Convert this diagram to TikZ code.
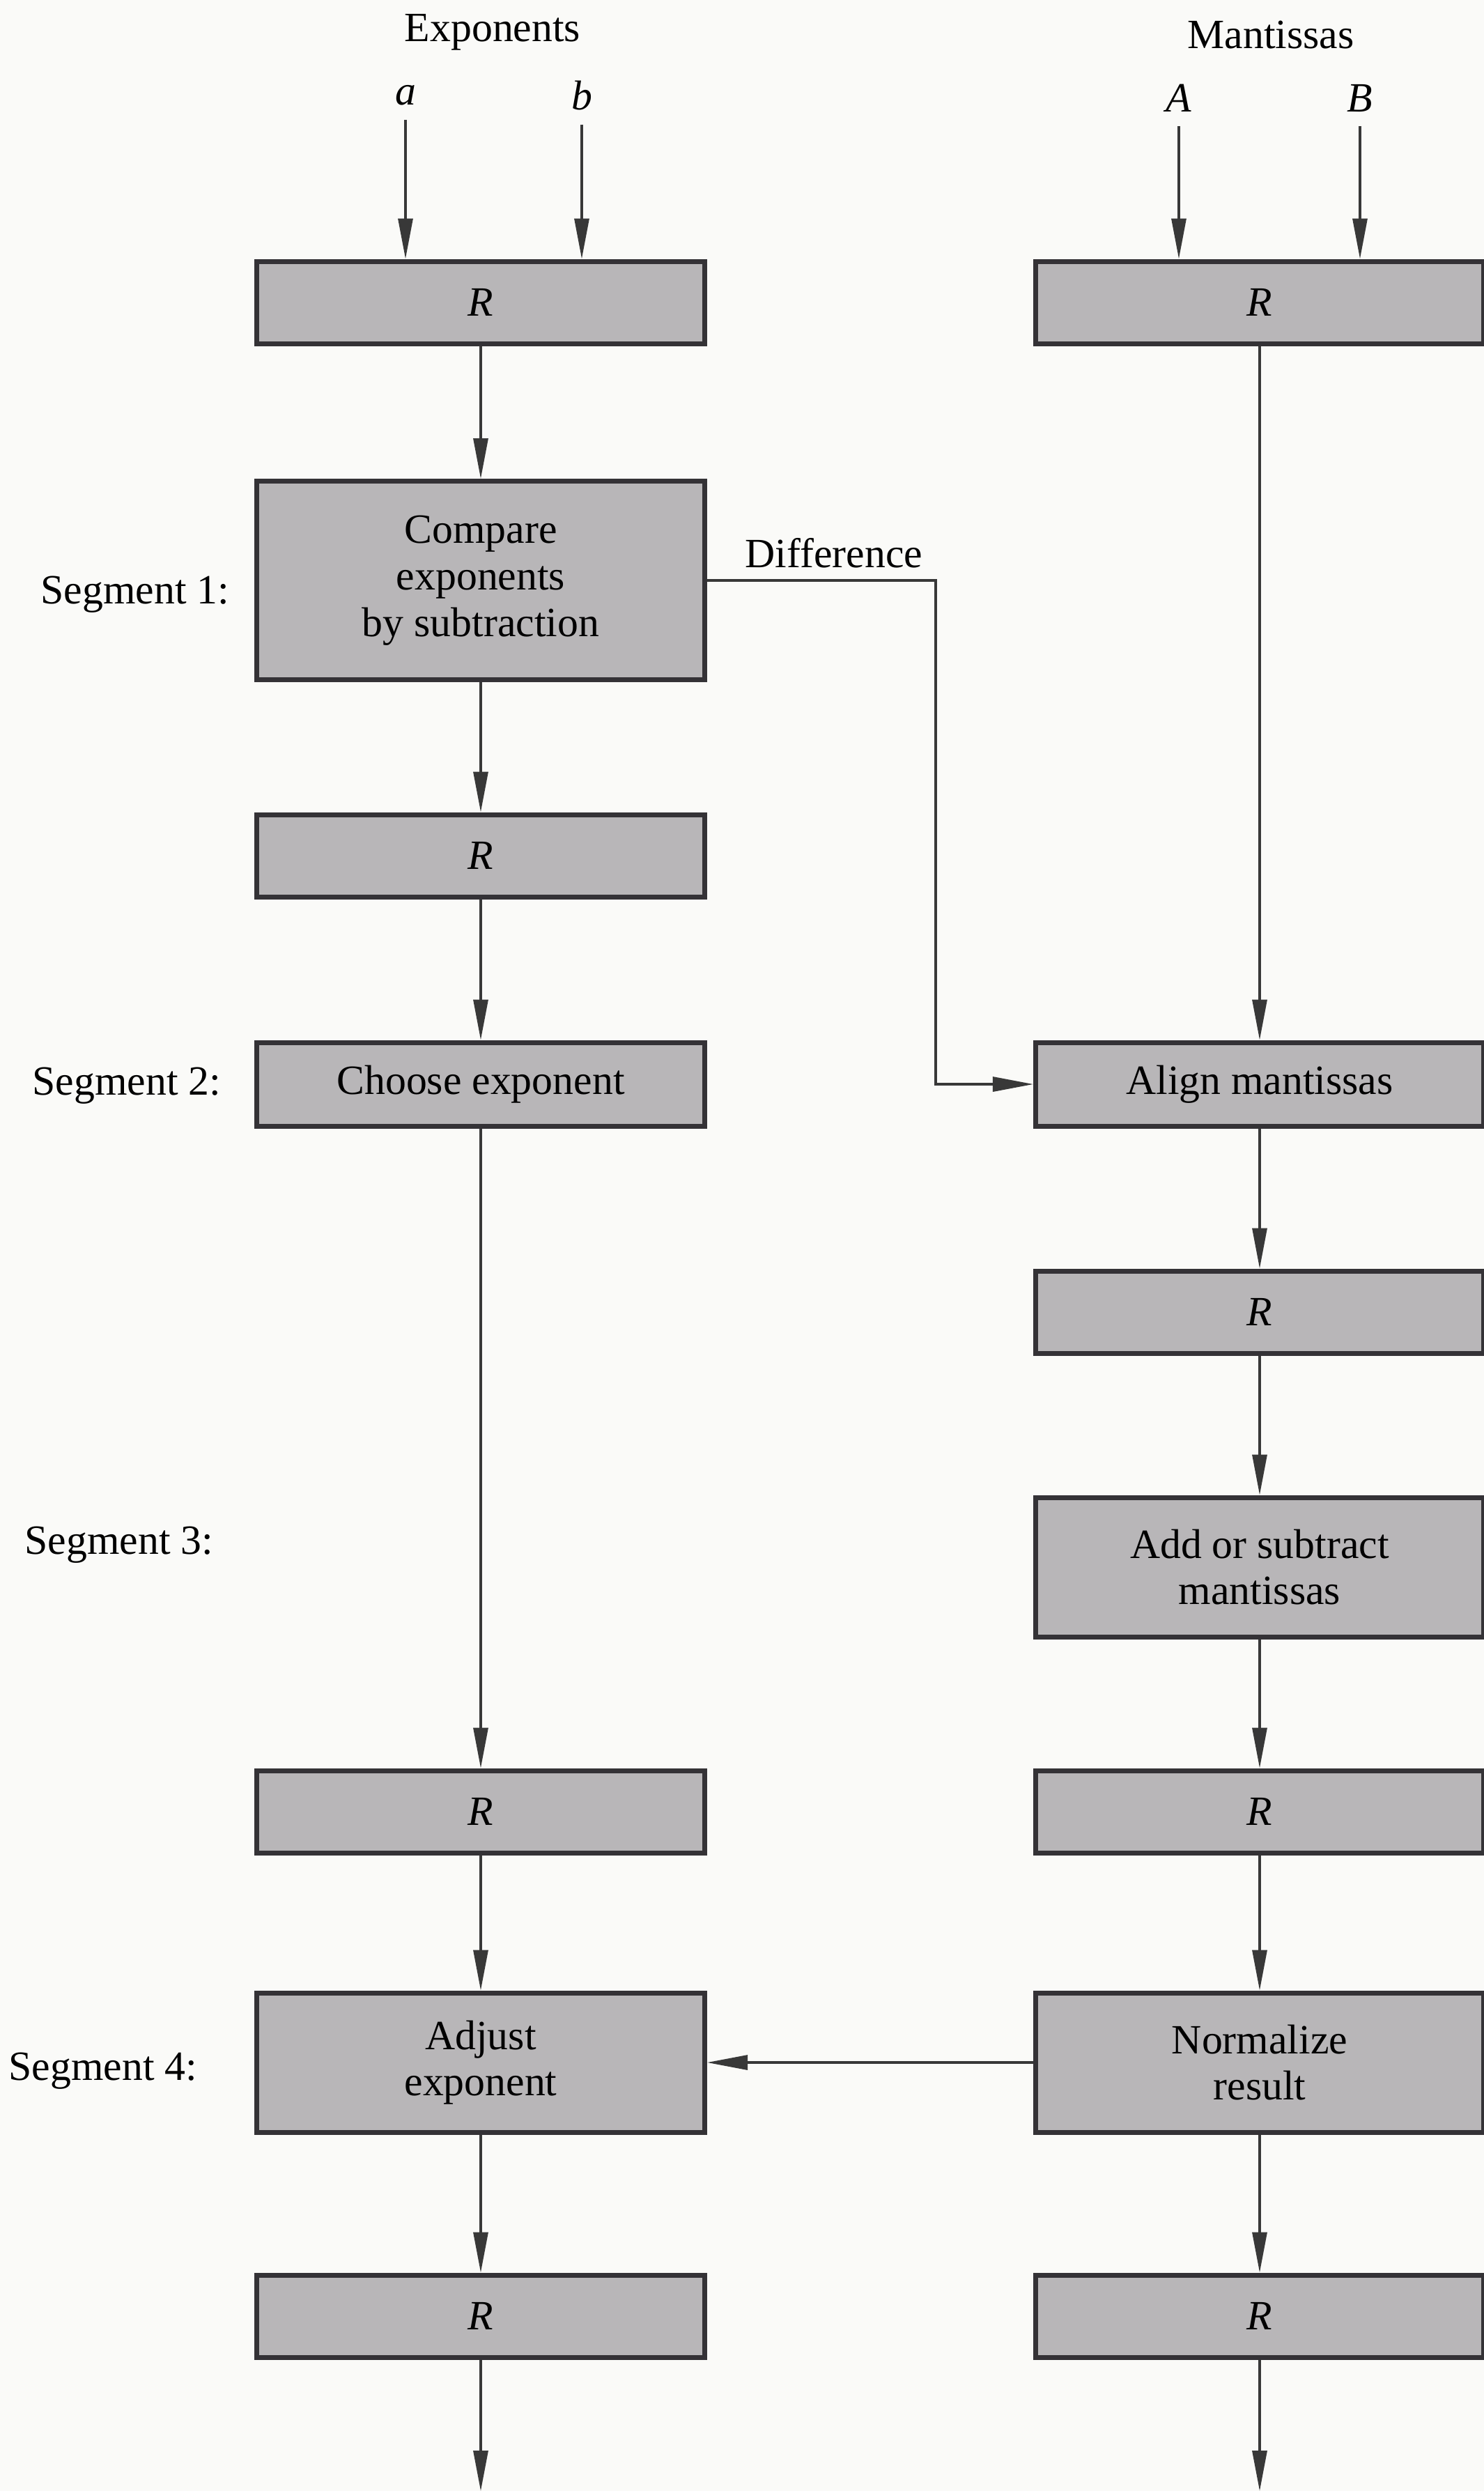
\documentclass[tikz,border=0pt]{standalone}
\usepackage{fontspec}
\setmainfont{Liberation Serif}
\usetikzlibrary{arrows.meta,positioning}
\definecolor{paper}{RGB}{250,250,248}
\definecolor{stageFill}{RGB}{184,182,184}
\definecolor{stageStroke}{RGB}{52,50,54}
\colorlet{ink}{black!78}
\tikzset{
  flow/.style={-{Triangle[length=5.8mm,width=2.1mm]}, draw=ink, line width=0.9pt},
  stage/.style={
    rectangle,
    draw=stageStroke,
    fill=stageFill,
    line width=2pt,
    minimum width=6.43cm,
    minimum height=2.0cm,
    inner sep=2pt,
    align=center,
    font=\fontsize{17pt}{19pt}\selectfont
  },
  regbox/.style={stage, minimum height=1.18cm, font=\fontsize{17pt}{19pt}\selectfont\itshape},
  thinstage/.style={stage, minimum height=1.2cm},
  tag/.style={font=\fontsize{17pt}{19pt}\selectfont, inner sep=0pt},
  inname/.style={font=\fontsize{17pt}{19pt}\selectfont\itshape, inner sep=0pt}
}

\begin{document}
\begin{tikzpicture}[x=1cm,y=1cm]
  \useasboundingbox (0,0) rectangle (21.30,-35.75);
  \fill[paper] (0,0) rectangle (21.30,-35.75);
  \clip (0,0) rectangle (21.30,-35.75);

  \node[tag] (exps) at (7.07,-0.46) {Exponents};
  \node[tag] (mants) at (18.24,-0.50) {Mantissas};
  \node[inname] (ina) at (5.82,-1.37) {a};
  \node[inname] (inb) at (8.35,-1.37) {b};
  \node[inname] (inA) at (16.92,-1.41) {A};
  \node[inname] (inB) at (19.52,-1.41) {B};

  \node[regbox] (rexp) at (6.90,-4.34) {R};
  \node[regbox] (rman) at (18.08,-4.34) {R};
  \node[stage, minimum height=2.85cm] (cmp) at (6.90,-8.33) {Compare\\exponents\\by subtraction};
  \node[regbox] (rdif) at (6.90,-12.28) {R};
  \node[thinstage] (choose) at (6.90,-15.56) {Choose exponent};
  \node[thinstage] (align) at (18.08,-15.56) {Align mantissas};
  \node[regbox] (ralign) at (18.08,-18.83) {R};
  \node[stage] (addsub) at (18.08,-22.49) {Add or subtract\\mantissas};
  \node[regbox] (rchoose) at (6.90,-26.00) {R};
  \node[regbox] (rsum) at (18.08,-26.00) {R};
  \node[stage] (adjust) at (6.90,-29.60) {Adjust\\exponent};
  \node[stage] (norm) at (18.08,-29.60) {Normalize\\result};
  \node[regbox] (rout) at (6.90,-33.24) {R};
  \node[regbox] (rres) at (18.08,-33.24) {R};

  \node[tag] (seg1) at (1.94,-8.53) {Segment 1:};
  \node[tag] (seg2) at (1.82,-15.58) {Segment 2:};
  \node[tag] (seg3) at (1.71,-22.17) {Segment 3:};
  \node[tag] (seg4) at (1.48,-29.72) {Segment 4:};
  \node[tag] (diff) at (11.97,-7.94) {Difference};

  \coordinate (outexp) at (6.90,-35.75);
  \coordinate (outman) at (18.08,-35.75);

  \draw[flow] (ina.south) ++(0,-0.2) -- (ina.south |- rexp.north);
  \draw[flow] (inb.south) ++(0,-0.2) -- (inb.south |- rexp.north);
  \draw[flow] (inA.south) ++(0,-0.2) -- (inA.south |- rman.north);
  \draw[flow] (inB.south) ++(0,-0.2) -- (inB.south |- rman.north);

  \draw[flow] (rexp.south) -- (cmp.north);
  \draw[flow] (cmp.south) -- (rdif.north);
  \draw[flow] (rdif.south) -- (choose.north);
  \draw[flow] (choose.south) -- (rchoose.north);
  \draw[flow] (rchoose.south) -- (adjust.north);
  \draw[flow] (adjust.south) -- (rout.north);
  \draw[flow] (rout.south) -- (outexp);

  \draw[flow] (rman.south) -- (align.north);
  \draw[flow] (align.south) -- (ralign.north);
  \draw[flow] (ralign.south) -- (addsub.north);
  \draw[flow] (addsub.south) -- (rsum.north);
  \draw[flow] (rsum.south) -- (norm.north);
  \draw[flow] (norm.south) -- (rres.north);
  \draw[flow] (rres.south) -- (outman);

  \draw[flow] (cmp.east) -- ++(3.28,0) |- (align.west);
  \draw[flow] (norm.west) -- (adjust.east);
\end{tikzpicture}
\end{document}
